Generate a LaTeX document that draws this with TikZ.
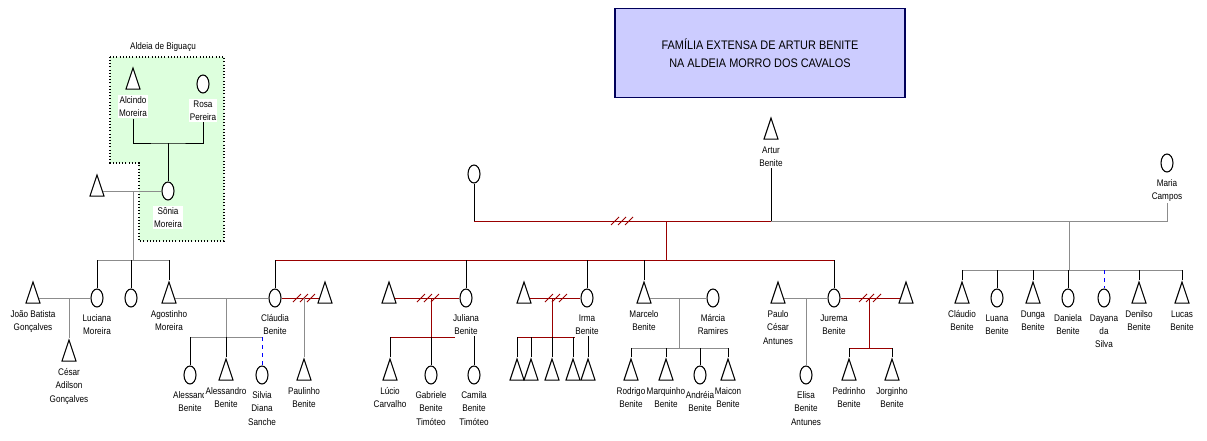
\documentclass[tikz,border=0pt]{standalone}
\usepackage{fontspec}
\setmainfont{Liberation Sans}
\newfontfamily\estreita[FakeStretch=0.85]{Liberation Sans}
\newfontfamily\estreitatit[FakeStretch=0.88]{Liberation Sans}
\usetikzlibrary{shapes.geometric}
\usetikzlibrary{positioning}
\definecolor{vermelholinha}{RGB}{153,0,0}
\definecolor{cinzalinha}{RGB}{140,140,140}
\definecolor{fundotitulo}{RGB}{204,204,255}
\definecolor{bordatitulo}{RGB}{0,0,90}
\definecolor{fundoaldeia}{RGB}{221,255,221}
\tikzset{
  homem/.style={draw, fill=white, line width=0.8pt, isosceles triangle, isosceles triangle apex angle=37, isosceles triangle stretches, shape border rotate=90, inner sep=0pt, minimum width=10.5pt, minimum height=15.75pt},
  mulher/.style={draw, fill=white, line width=0.8pt, ellipse, inner sep=0pt, minimum width=9pt, minimum height=13.5pt},
  rotulo/.style={fill=white, inner sep=1pt, align=center, font=\estreita\fontsize{7.2}{10}\selectfont},
  titulo/.style={draw=bordatitulo, fill=fundotitulo, line width=0.9pt, align=center, minimum width=217.5pt, minimum height=67pt, font=\estreitatit\fontsize{9.3}{13.5}\selectfont},
  casamento/.style={cinzalinha, line width=0.75pt},
  separado/.style={vermelholinha, line width=0.75pt},
  filiacao/.style={black, line width=0.75pt},
  incerto/.style={blue, dashed, line width=0.75pt},
  corte/.pic={\draw[vermelholinha, line width=0.7pt] (-11,4) -- (-3,-4) (-4,4) -- (4,-4) (3,4) -- (11,-4);},
}
\begin{document}
\begin{tikzpicture}[x=0.75pt, y=-0.75pt, node distance=4pt]
  \useasboundingbox (0,0) rectangle (1207,440);

  \node[titulo] (titulo) at (760,53) {FAMÍLIA EXTENSA DE ARTUR BENITE\\NA ALDEIA MORRO DOS CAVALOS};

  % aldeia de Biguacu
  \filldraw[fill=fundoaldeia, line width=0.9pt, dash pattern=on 0.8pt off 1.6pt]
    (110,57) -- (224,57) -- (224,241) -- (139,241) -- (139,163) -- (110,163) -- cycle;
  \node[rotulo, fill=none] (aldeia) at (163,47) {Aldeia de Biguaçu};

  \node[homem] (alcindo) at (133,84) {};
  \node[rotulo, below=of alcindo] (alcindo-l) {Alcindo\\Moreira};
  \node[mulher] (rosa) at (203,84) {};
  \node[rotulo, below=of rosa] (rosa-l) {Rosa\\Pereira};
  \node[mulher] (sonia) at (168,191) {};
  \node[rotulo, below=of sonia] (sonia-l) {Sônia\\Moreira};
  \node[homem] (esposo-sonia) at (97,191) {};

  % geracao de Artur
  \node[homem] (artur) at (771,134) {};
  \node[rotulo, below=of artur] (artur-l) {Artur\\Benite};
  \node[mulher] (esposa-artur) at (474,174) {};
  \node[mulher] (maria) at (1167,163) {};
  \node[rotulo, below=of maria] (maria-l) {Maria\\Campos};

  % filhos e conjuges
  \node[homem] (joao) at (33,298) {};
  \node[rotulo, below=of joao] (joao-l) {João Batista\\Gonçalves};
  \node[mulher] (luciana) at (97,298) {};
  \node[rotulo, below=of luciana] (luciana-l) {Luciana\\Moreira};
  \node[mulher] (filha-sonia) at (131,298) {};
  \node[homem] (agostinho) at (169,298) {};
  \node[rotulo, below=of agostinho] (agostinho-l) {Agostinho\\Moreira};
  \node[mulher] (claudia) at (275,298) {};
  \node[rotulo, below=of claudia] (claudia-l) {Cláudia\\Benite};
  \node[homem] (esposo2-claudia) at (325,298) {};
  \node[homem] (esposo-juliana) at (389,298) {};
  \node[mulher] (juliana) at (466,298) {};
  \node[rotulo, below=of juliana] (juliana-l) {Juliana\\Benite};
  \node[homem] (esposo-irma) at (524,298) {};
  \node[mulher] (irma) at (587,298) {};
  \node[rotulo, below=of irma] (irma-l) {Irma\\Benite};
  \node[homem] (marcelo) at (644,298) {};
  \node[rotulo, below=of marcelo] (marcelo-l) {Marcelo\\Benite};
  \node[mulher] (marcia) at (713,298) {};
  \node[rotulo, below=of marcia] (marcia-l) {Márcia\\Ramires};
  \node[homem] (paulo) at (778,298) {};
  \node[rotulo, below=of paulo] (paulo-l) {Paulo\\César\\Antunes};
  \node[mulher] (jurema) at (834,298) {};
  \node[rotulo, below=of jurema] (jurema-l) {Jurema\\Benite};
  \node[homem] (esposo2-jurema) at (906,298) {};
  \node[homem] (claudio) at (962,298) {};
  \node[rotulo, below=of claudio] (claudio-l) {Cláudio\\Benite};
  \node[mulher] (luana) at (997,298) {};
  \node[rotulo, below=of luana] (luana-l) {Luana\\Benite};
  \node[homem] (dunga) at (1033,298) {};
  \node[rotulo, below=of dunga] (dunga-l) {Dunga\\Benite};
  \node[mulher] (daniela) at (1068,298) {};
  \node[rotulo, below=of daniela] (daniela-l) {Daniela\\Benite};
  \node[mulher] (dayana) at (1104,298) {};
  \node[rotulo, below=of dayana] (dayana-l) {Dayana\\da\\Silva};
  \node[homem] (denilso) at (1139,298) {};
  \node[rotulo, below=of denilso] (denilso-l) {Denilso\\Benite};
  \node[homem] (lucas) at (1182,298) {};
  \node[rotulo, below=of lucas] (lucas-l) {Lucas\\Benite};

  % netos
  \node[homem] (cesar) at (69,356) {};
  \node[rotulo, below=of cesar] (cesar-l) {César\\Adilson\\Gonçalves};
  \node[mulher] (alessandra) at (190,375) {};
  \node[rotulo, below=of alessandra] (alessandra-l) {Alessand\\Benite};
  \node[homem] (alessandro) at (226,375) {};
  \node[rotulo, below=of alessandro] (alessandro-l) {Alessandro\\Benite};
  \node[mulher] (silvia) at (262,375) {};
  \node[rotulo, below=of silvia] (silvia-l) {Silvia\\Diana\\Sanche};
  \node[homem] (paulinho) at (304,375) {};
  \node[rotulo, below=of paulinho] (paulinho-l) {Paulinho\\Benite};
  \node[homem] (lucio) at (390,375) {};
  \node[rotulo, below=of lucio] (lucio-l) {Lúcio\\Carvalho};
  \node[mulher] (gabriele) at (431,375) {};
  \node[rotulo, below=of gabriele] (gabriele-l) {Gabriele\\Benite\\Timóteo};
  \node[mulher] (camila) at (474,375) {};
  \node[rotulo, below=of camila] (camila-l) {Camila\\Benite\\Timóteo};
  \foreach \i/\x in {1/517, 2/531, 3/552, 4/573, 5/588}
    \node[homem] (filho-irma\i) at (\x,375) {};
  \node[homem] (rodrigo) at (631,375) {};
  \node[rotulo, below=of rodrigo] (rodrigo-l) {Rodrigo\\Benite};
  \node[homem] (marquinho) at (666,375) {};
  \node[rotulo, below=of marquinho] (marquinho-l) {Marquinho\\Benite};
  \node[mulher] (andreia) at (700,375) {};
  \node[rotulo, below=of andreia] (andreia-l) {Andréia\\Benite};
  \node[homem] (maicon) at (728,375) {};
  \node[rotulo, below=of maicon] (maicon-l) {Maicon\\Benite};
  \node[mulher] (elisa) at (806,375) {};
  \node[rotulo, below=of elisa] (elisa-l) {Elisa\\Benite\\Antunes};
  \node[homem] (pedrinho) at (849,375) {};
  \node[rotulo, below=of pedrinho] (pedrinho-l) {Pedrinho\\Benite};
  \node[homem] (jorginho) at (892,375) {};
  \node[rotulo, below=of jorginho] (jorginho-l) {Jorginho\\Benite};

  % pontos das uniões
  \coordinate (c-alcindo) at (168,143);
  \coordinate (m-sonia) at (133,191);
  \coordinate (f-sonia) at (133,260);
  \coordinate (m-artur) at (771,221);
  \coordinate (d-artur1) at (666,221);
  \coordinate (f-artur1) at (666,260);
  \coordinate (d-artur2) at (1069,221);
  \coordinate (f-artur2) at (1069,270);
  \coordinate (m-luciana) at (69,298);
  \coordinate (m-claudia) at (226,298);
  \coordinate (f-claudia) at (226,337);
  \coordinate (m2-claudia) at (304,298);
  \coordinate (m-juliana) at (431,298);
  \coordinate (f-juliana) at (431,337);
  \coordinate (f-juliana-fim) at (455,337);
  \coordinate (m-irma) at (552,298);
  \coordinate (f-irma) at (552,337);
  \coordinate (f-irma-fim) at (575,337);
  \coordinate (m-marcelo) at (679,298);
  \coordinate (f-marcelo) at (679,348);
  \coordinate (m-jurema) at (806,298);
  \coordinate (m2-jurema) at (869,298);
  \coordinate (f2-jurema) at (869,348);

  % Biguacu
  \draw[filiacao] (alcindo-l.south) |- (c-alcindo) -| (rosa-l.south);
  \draw[filiacao] (c-alcindo) -- (sonia.north);
  \draw[casamento] (esposo-sonia.east) -- (sonia.west);
  \draw[casamento] (m-sonia) -- (f-sonia);
  \draw[casamento] (luciana.north |- f-sonia) -- (agostinho.north |- f-sonia);
  \foreach \n in {luciana, filha-sonia, agostinho}
    \draw[filiacao] (\n.north |- f-sonia) -- (\n.north);

  % Artur
  \draw[filiacao] (artur-l.south) -- (m-artur);
  \draw[filiacao] (esposa-artur.south) -- (esposa-artur.south |- m-artur);
  \draw[separado] (esposa-artur.south |- m-artur) -- (m-artur);
  \pic at (622,221) {corte};
  \draw[separado] (d-artur1) -- (f-artur1);
  \draw[separado] (claudia.north |- f-artur1) -- (jurema.north |- f-artur1);
  \foreach \n in {claudia, juliana, irma, marcelo, jurema}
    \draw[filiacao] (\n.north |- f-artur1) -- (\n.north);
  \draw[casamento] (m-artur) -| (maria-l.south);
  \draw[casamento] (d-artur2) -- (f-artur2);
  \draw[casamento] (claudio.north |- f-artur2) -- (lucas.north |- f-artur2);
  \foreach \n in {claudio, luana, dunga, daniela, denilso, lucas}
    \draw[filiacao] (\n.north |- f-artur2) -- (\n.north);
  \draw[incerto] (dayana.north |- f-artur2) -- (dayana.north);

  % Luciana
  \draw[casamento] (joao.east) -- (luciana.west);
  \draw[casamento] (m-luciana) -- (cesar.north);

  % Claudia
  \draw[casamento] (agostinho.east) -- (claudia.west);
  \draw[casamento] (m-claudia) -- (f-claudia);
  \draw[casamento] (alessandra.north |- f-claudia) -- (silvia.north |- f-claudia);
  \draw[filiacao] (alessandra.north |- f-claudia) -- (alessandra.north);
  \draw[filiacao] (f-claudia) -- (alessandro.north);
  \draw[incerto] (silvia.north |- f-claudia) -- (silvia.north);
  \draw[separado] (claudia.east) -- (esposo2-claudia.west);
  \pic at (m2-claudia) {corte};
  \draw[casamento] (m2-claudia) -- (paulinho.north);

  % Juliana
  \draw[separado] (esposo-juliana.east) -- (juliana.west);
  \pic at (428,298) {corte};
  \draw[separado] (m-juliana) -- (f-juliana);
  \draw[separado] (lucio.north |- f-juliana) -- (f-juliana-fim);
  \draw[filiacao] (lucio.north |- f-juliana) -- (lucio.north);
  \draw[filiacao] (f-juliana) -- (gabriele.north);
  \draw[filiacao] (camila.north |- juliana-l.south) -- (camila.north);

  % Irma
  \draw[separado] (esposo-irma.east) -- (irma.west);
  \pic at (556,298) {corte};
  \draw[separado] (m-irma) -- (f-irma);
  \draw[separado] (filho-irma1.north |- f-irma) -- (f-irma-fim);
  \foreach \i in {1,...,4}
    \draw[filiacao] (filho-irma\i.north |- f-irma) -- (filho-irma\i.north);
  \draw[filiacao] (filho-irma5.north |- irma-l.south) -- (filho-irma5.north);

  % Marcelo
  \draw[casamento] (marcelo.east) -- (marcia.west);
  \draw[casamento] (m-marcelo) -- (f-marcelo);
  \draw[casamento] (rodrigo.north |- f-marcelo) -- (maicon.north |- f-marcelo);
  \foreach \n in {rodrigo, marquinho, andreia, maicon}
    \draw[filiacao] (\n.north |- f-marcelo) -- (\n.north);

  % Jurema
  \draw[casamento] (paulo.east) -- (jurema.west);
  \draw[casamento] (m-jurema) -- (elisa.north);
  \draw[separado] (jurema.east) -- (esposo2-jurema.west);
  \pic at (870,298) {corte};
  \draw[separado] (m2-jurema) -- (f2-jurema);
  \draw[separado] (pedrinho.north |- f2-jurema) -- (jorginho.north |- f2-jurema);
  \foreach \n in {pedrinho, jorginho}
    \draw[filiacao] (\n.north |- f2-jurema) -- (\n.north);
\end{tikzpicture}
\end{document}
